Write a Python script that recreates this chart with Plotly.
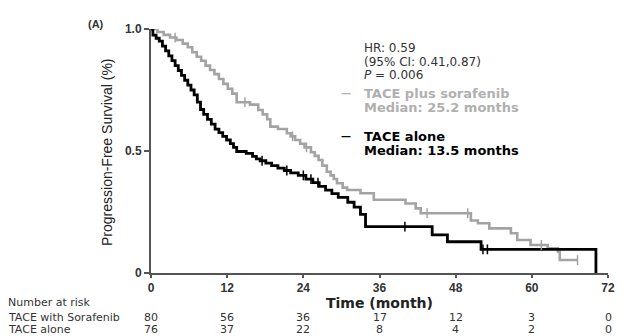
import plotly.graph_objects as go

# ---- data ----
alone_t = [0, 0.3, 0.8, 1.3, 1.8, 2.3, 2.8, 3.3, 3.8, 4.3, 4.8, 5.3, 5.8, 6.3, 6.8, 7.3, 7.8, 8.3, 8.9, 9.5,
           10.1, 10.7, 11.3, 11.9, 12.5, 13.0, 13.5, 15.0, 16.0, 16.6, 17.2, 18.1, 19.0, 20.0, 21.0, 22.0,
           23.2, 24.4, 25.5, 26.5, 27.5, 28.5, 29.5, 31.0, 32.0, 33.0, 33.8, 44.3, 46.7, 52.0, 70.1]
alone_s = [1.0, 0.975, 0.962, 0.95, 0.93, 0.91, 0.89, 0.87, 0.85, 0.83, 0.81, 0.79, 0.77, 0.75, 0.73, 0.70,
           0.67, 0.65, 0.63, 0.61, 0.59, 0.575, 0.56, 0.545, 0.53, 0.515, 0.498, 0.49, 0.478, 0.468, 0.46,
           0.45, 0.44, 0.43, 0.42, 0.41, 0.40, 0.385, 0.37, 0.355, 0.34, 0.325, 0.31, 0.29, 0.27, 0.24, 0.19,
           0.156, 0.128, 0.097, 0.0]
alone_cens = [17.5, 21.4, 24.0, 25.2, 26.3, 40.0, 52.3, 53.0]

sora_t = [0, 1.0, 2.0, 3.0, 4.0, 5.0, 5.8, 6.5, 7.2, 7.9, 8.6, 9.3, 10.0, 10.7, 11.4, 12.1, 12.8, 13.5,
          15.6, 16.9, 17.6, 18.3, 18.8, 20.0, 21.4, 22.0, 22.7, 23.5, 24.2, 25.2, 25.8, 26.4, 27.0, 27.7,
          28.3, 28.8, 29.3, 30.2, 30.9, 33.0, 35.1, 40.1, 41.7, 42.5, 50.4, 51.5, 53.3, 56.7, 57.7, 59.8,
          62.5, 64.1, 64.4, 67.2]
sora_s = [1.0, 0.988, 0.976, 0.965, 0.955, 0.94, 0.925, 0.905, 0.886, 0.87, 0.85, 0.832, 0.815, 0.795,
          0.775, 0.755, 0.735, 0.70, 0.69, 0.668, 0.65, 0.63, 0.60, 0.59, 0.573, 0.56, 0.545, 0.53, 0.515,
          0.495, 0.48, 0.463, 0.44, 0.415, 0.40, 0.385, 0.368, 0.35, 0.34, 0.327, 0.30, 0.285, 0.265, 0.245,
          0.215, 0.204, 0.183, 0.163, 0.135, 0.115, 0.101, 0.087, 0.053, 0.053]
sora_cens = [3.8, 14.8, 22.3, 24.5, 43.5, 49.9, 61.5, 67.2]

x_ticks = [0, 12, 24, 36, 48, 60, 72]
y_ticks = [0, 0.5, 1.0]
y_tick_labels = ["0", "0.5", "1.0"]
risk_sora = [80, 56, 36, 17, 12, 3, 0]
risk_alone = [76, 37, 22, 8, 4, 2, 0]

FONT = "Liberation Sans, Arial, sans-serif"
WIDE = "DejaVu Sans, Verdana, sans-serif"
GRAY = "#a3a3a3"
GRAY_TXT = "#b0b0b0"
BLACK = "#000000"

W, H = 628, 336
L, R, T, B = 151, 20, 29, 63
PW, PH = W - L - R, H - T - B


def px(x):
    return (x - L) / PW


def py(y):
    return (H - B - y) / PH


def step_at(ts, ss, t):
    v = ss[0]
    for ti, si in zip(ts, ss):
        if ti <= t:
            v = si
    return v


fig = go.Figure()
fig.add_trace(go.Scatter(x=sora_t, y=sora_s, mode="lines", line=dict(color=GRAY, width=2.6, shape="hv"),
                         cliponaxis=False, showlegend=False, hoverinfo="skip"))
fig.add_trace(go.Scatter(x=alone_t, y=alone_s, mode="lines", line=dict(color=BLACK, width=2.8, shape="hv"),
                         cliponaxis=False, showlegend=False, hoverinfo="skip"))
fig.add_trace(go.Scatter(x=sora_cens, y=[step_at(sora_t, sora_s, t) for t in sora_cens], mode="markers",
                         marker=dict(symbol="line-ns", size=7, line=dict(color=GRAY, width=1.5)),
                         cliponaxis=False, showlegend=False, hoverinfo="skip"))
fig.add_trace(go.Scatter(x=alone_cens, y=[step_at(alone_t, alone_s, t) for t in alone_cens], mode="markers",
                         marker=dict(symbol="line-ns", size=7, line=dict(color=BLACK, width=1.5)),
                         cliponaxis=False, showlegend=False, hoverinfo="skip"))

ann = []


def add(text, x, y, xref="paper", size=11, color="#333", xanchor="center", family=WIDE, **kw):
    ann.append(dict(x=x, y=y, xref=xref, yref="paper", text=text, showarrow=False,
                    xanchor=xanchor, yanchor="middle",
                    font=dict(family=family, size=size, color=color), **kw))


# y title
add("Progression-Free Survival (%)", px(107), py(152), size=14, color="#222", textangle=-90, family=FONT)
# x title
add("<b>Time (month)</b>", 36, py(303), xref="x", size=14, color="#222")
# panel label
add("<b>(A)</b>", px(86), py(24), size=11, xanchor="left", family=FONT)
# stats
stats = ["HR: 0.59", "(95% CI: 0.41,0.87)", "<i>P</i> = 0.006"]
for i, s in enumerate(stats):
    add(s, px(362), py(48 + 13.5 * i), size=12, xanchor="left")
# legend texts
leg = [("<b>—</b>", 339, 93, GRAY_TXT, 10), ("<b>TACE plus sorafenib</b>", 362, 93, GRAY_TXT, 13),
       ("<b>Median: 25.2 months</b>", 362, 107, GRAY_TXT, 13),
       ("<b>—</b>", 339, 136, BLACK, 10), ("<b>TACE alone</b>", 362, 136, BLACK, 13),
       ("<b>Median: 13.5 months</b>", 362, 150, BLACK, 13)]
for s, x, y, c, sz in leg:
    add(s, px(x), py(y), size=sz, color=c, xanchor="left")
# risk table
add("Number at risk", px(6), py(302), xanchor="left")
add("TACE with Sorafenib", px(6), py(317), xanchor="left")
add("TACE alone", px(6), py(329), xanchor="left")
for t, a, b in zip(x_ticks, risk_sora, risk_alone):
    add(str(a), t, py(317), xref="x")
    add(str(b), t, py(329), xref="x")

fig.update_layout(
    width=W, height=H, margin=dict(l=L, r=R, t=T, b=B),
    paper_bgcolor="white", plot_bgcolor="white",
    annotations=ann,
    xaxis=dict(range=[0, 72], tickvals=x_ticks, ticktext=[f"<b>{v}</b>" for v in x_ticks],
               showgrid=False, zeroline=False, showline=True, linecolor="#555", linewidth=2,
               ticks="outside", ticklen=3, tickcolor="#555", tickwidth=1.5,
               tickfont=dict(family=FONT, size=12, color="#333")),
    yaxis=dict(range=[0, 1.0], tickvals=y_ticks, ticktext=[f"<b>{v}</b>" for v in y_tick_labels],
               showgrid=False, zeroline=False, showline=True, linecolor="#555", linewidth=2,
               ticks="outside", ticklen=5, tickcolor="#555", tickwidth=1.5,
               tickfont=dict(family=FONT, size=12, color="#333")),
)

fig.write_html("out.html")
